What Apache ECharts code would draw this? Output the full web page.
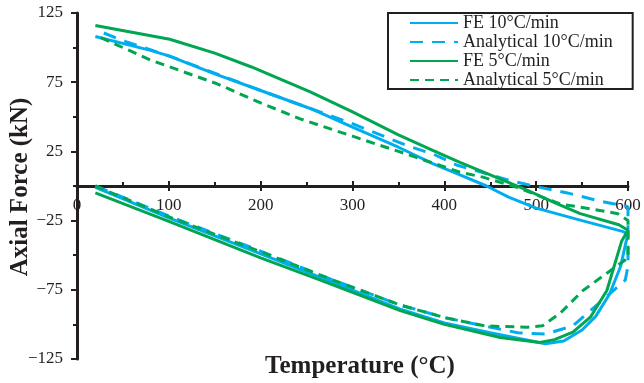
<!DOCTYPE html>
<html><head><meta charset="utf-8">
<script src="https://cdn.jsdelivr.net/npm/echarts@6/dist/echarts.min.js"></script>
<style>html,body{margin:0;padding:0;background:#fff}#c{width:644px;height:383px}</style>
</head><body><div id="c"></div>
<script>
const seriesNames = ['FE 10°C/min', 'Analytical 10°C/min', 'FE 5°C/min', 'Analytical 5°C/min'];
// [temperature (°C), axial force (kN)] — heating branch then cooling branch
const fe10 = [[20,-1],[100,-23],[200,-49],[265,-66],[352,-89],[400,-99],[450,-106],[480,-110],[510,-114],[530,-112],[550,-104],[565,-94],[580,-78],[592,-58],[598,-40],[600,-35],
  [595,-33],[550,-25],[500,-16],[470,-8],[446,0],[417,8],[388,16],[350,28],[300,42.5],[254,56],[200,69],[150,81],[100,94],[80,98],[20,108]];
const an10 = [[20,0],[101,-22],[200,-47],[275,-67],[352,-86],[400,-95],[442,-101],[480,-106],[510,-107],[540,-101],[566,-86],[585,-75],[597,-68],[600,-58],[600,-40],[600,-15],
  [570,-11],[534,-5],[504,-1],[471,4],[414,15],[388,23],[360,29],[300,45],[200,69],[100,94],[50,105],[20,113]];
const fe5 = [[20,-5],[100,-25.5],[200,-52],[265,-68],[352,-90],[400,-100],[461,-109.5],[504,-113],[520,-111],[540,-105.6],[559,-94.8],[577,-75.5],[593,-40],[600,-32],
  [590,-28],[548,-20],[520,-12],[490,-3],[450,8],[417,17],[388,25.6],[350,37],[300,53.5],[254,68],[190,86],[150,96],[101,106],[20,116]];
const an5 = [[20,0],[101,-22.5],[200,-47.5],[275,-67],[352,-86],[400,-95],[442,-100.8],[461,-101.5],[490,-102],[507,-101],[526,-92],[551,-75.5],[577,-63],[600,-52],[600,-25],
  [589,-20],[555,-16],[526,-13],[479,-1],[442,6.4],[417,10],[350,25],[300,36],[243,48.5],[200,60],[152,74],[80,91],[20,109]];
const yLabelValues = [-125, -75, -25, 25, 75, 125];
const yMinorValues = [-100, -50, 0, 50, 100];
const xMin = 0, xMax = 600, xStep = 100;

const cyan = '#00aeef', green = '#00a651', ink = '#231f20';
const serif = '"Liberation Serif", "Times New Roman", serif';

const chart = echarts.init(document.getElementById('c'), null, {renderer: 'canvas'});
const mk = (name, data, color, type) => ({
  name, type: 'line', data, symbol: 'none', showSymbol: false, clip: false,
  xAxisIndex: 0, yAxisIndex: 0,
  lineStyle: {color, width: 3, type}, itemStyle: {color}, animation: false
});
// plot grid spans -125..125; the second grid ends exactly at force = 0 so its bottom axis sits on the zero line
const plotTop = 13, plotBottom = 359;
const zeroPx = plotTop + (plotBottom - plotTop) * (125 - 0) / 250;
chart.setOption({
  animation: false,
  grid: [
    {left: 77, right: 16, top: plotTop, bottom: 383 - plotBottom, containLabel: false},
    {left: 77, right: 16, top: plotTop, height: zeroPx - plotTop, containLabel: false}
  ],
  legend: {
    orient: 'vertical', left: 388, top: 13, padding: [1, 20, 0, 21], itemGap: 1,
    itemWidth: 48, itemHeight: 14, borderColor: ink, borderWidth: 2,
    itemStyle: {color: 'rgba(0,0,0,0)', borderWidth: 0, opacity: 0},
    textStyle: {fontFamily: serif, fontSize: 18, color: ink},
    data: seriesNames
  },
  xAxis: [{
    gridIndex: 0, type: 'value', min: xMin, max: xMax, interval: xStep, show: false
  }, {
    gridIndex: 1, type: 'value', min: xMin, max: xMax, interval: xStep, position: 'bottom',
    axisLine: {show: true, onZero: false, lineStyle: {color: ink, width: 3}},
    axisTick: {show: true, length: 5, lineStyle: {color: ink, width: 2}},
    axisLabel: {margin: 11, fontFamily: serif, fontSize: 17, color: ink},
    splitLine: {show: false}
  }, {
    gridIndex: 1, type: 'value', min: xMin, max: xMax, interval: xStep, position: 'bottom',
    axisLine: {show: false, onZero: false},
    axisTick: {show: true, inside: true, length: 5, lineStyle: {color: ink, width: 2}},
    minorTick: {show: true, splitNumber: 2, length: 4, lineStyle: {color: ink, width: 2}},
    axisLabel: {show: false}, splitLine: {show: false}
  }],
  yAxis: [{
    gridIndex: 0, type: 'value', min: -125, max: 125, interval: 25, position: 'left',
    axisLine: {show: true, onZero: false, lineStyle: {color: ink, width: 3}},
    axisTick: {show: true, length: 6, customValues: yLabelValues, lineStyle: {color: ink, width: 2}},
    axisLabel: {margin: 14, fontFamily: serif, fontSize: 17, color: ink, customValues: yLabelValues,
      formatter: v => v < 0 ? '\u2212' + Math.abs(v) : String(v)},
    splitLine: {show: false}
  }, {
    gridIndex: 0, type: 'value', min: -125, max: 125, interval: 25, position: 'left',
    axisLine: {show: false, onZero: false},
    axisTick: {show: true, length: 4, customValues: yMinorValues, lineStyle: {color: ink, width: 2}},
    axisLabel: {show: false}, splitLine: {show: false}
  }, {
    gridIndex: 1, type: 'value', min: 0, max: 125, show: false
  }],
  graphic: [
    {type: 'text', x: 360, y: 367, style: {text: 'Temperature (°C)', font: 'bold 25px ' + serif, fill: ink,
      align: 'center', verticalAlign: 'middle', textAlign: 'center', textVerticalAlign: 'middle'}},
    {type: 'text', x: 21, y: 187, rotation: Math.PI / 2, style: {text: 'Axial Force (kN)', font: 'bold 25px ' + serif, fill: ink,
      align: 'center', verticalAlign: 'middle', textAlign: 'center', textVerticalAlign: 'middle'}}
  ],
  series: [
    mk(seriesNames[0], fe10, cyan, 'solid'),
    mk(seriesNames[1], an10, cyan, [13, 9]),
    mk(seriesNames[2], fe5, green, 'solid'),
    mk(seriesNames[3], an5, green, [9, 6])
  ]
});
</script></body></html>
